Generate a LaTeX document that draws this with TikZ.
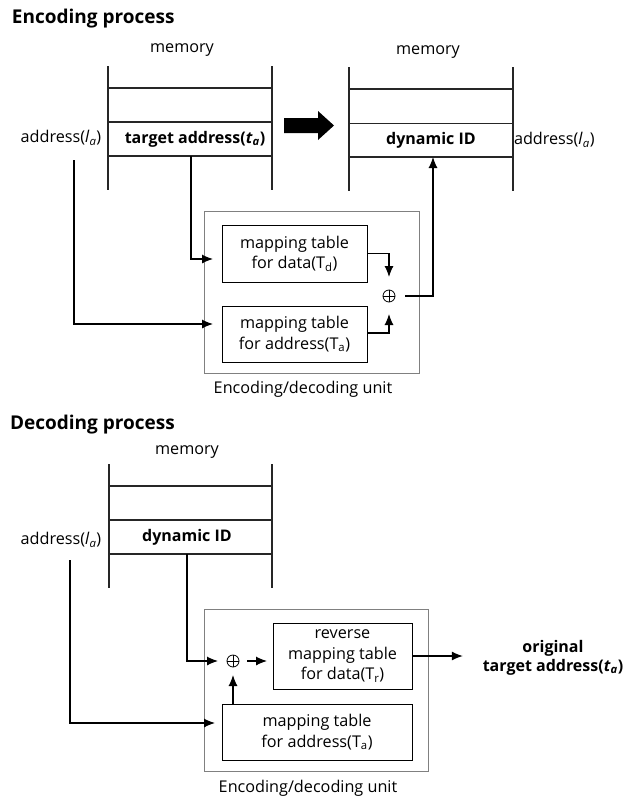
\documentclass[tikz,border=0pt]{standalone}
\usepackage{fontspec}
\setmainfont{Open Sans}
\usetikzlibrary{arrows.meta,calc}
\begin{document}
\begin{tikzpicture}[x=1pt,y=-1pt,
  every node/.style={font=\fontsize{16.2}{20.5}\selectfont, inner sep=0pt, outer sep=0pt},
  title/.style={font=\bfseries\fontsize{19}{22}\selectfont, anchor=base west},
  bold/.style={font=\bfseries\fontsize{16}{19}\selectfont},
  mem/.style={line width=1.3pt, black!85},
  tbox/.style={draw, line width=0.8pt, align=center},
  unitbox/.style={draw=black!50, line width=1pt},
  arr/.style={line width=1.1pt, -{Latex[length=11pt,width=9pt]}},
  xorn/.style={circle, draw, line width=0.8pt, minimum size=12pt, inner sep=0pt,
    path picture={\draw[line width=0.8pt] (path picture bounding box.north) -- (path picture bounding box.south)
      (path picture bounding box.west) -- (path picture bounding box.east);}}
]
\useasboundingbox (0,0) rectangle (626,796);

% ================= Encoding =================
\node[title] (t1) at (12,23) {Encoding process};

% memory 1
\node (m1lbl) at (182,50) {memory};
\draw[mem] (108,66) -- (108,190) (272,66) -- (272,190);
\draw[mem] (108,88) -- (272,88) (108,122) -- (272,122) (108,156) -- (272,156);
\node[bold] (tgt) at (195,139) {target address(\textbf{\textit{t}}\textsubscript{\textit{a}})};
\node (addr1) at (61,138) {address(\textit{l}\textsubscript{\textit{a}})};
\coordinate (tgtbot) at (191,156);
\coordinate (a1top) at (74,160);

% big arrow
\fill (284,118) -- (318,118) -- (318,111) -- (334,125.5) -- (318,140) -- (318,133) -- (284,133) -- cycle;

% memory 2
\node (m2lbl) at (428,52) {memory};
\draw[mem] (349,67) -- (349,191) (513,67) -- (513,191);
\draw[mem] (349,89) -- (513,89) (349,123.5) -- (513,123.5) (349,157) -- (513,157);
\node[bold] (dyn1) at (431,140) {dynamic ID};
\node[anchor=west] (addr2) at (514,140) {address(\textit{l}\textsubscript{\textit{a}})};
\coordinate (dyn1bot) at (433,157);

% unit
\node[unitbox, minimum width=215pt, minimum height=162pt] (u1) at (311.5,292) {};
\node (u1lbl) at (303,389) {Encoding/decoding unit};
\node[tbox, minimum width=145pt, minimum height=57pt] (Td) at (294.5,253.5) {mapping table\\for data(T\textsubscript{d})};
\node[tbox, minimum width=145pt, minimum height=56pt] (Ta1) at (294.5,334) {mapping table\\for address(T\textsubscript{a})};
\node[xorn] (x1) at (389,296) {};

\draw[arr, shorten >=9pt] (tgtbot) |- ($(Td.west)+(0,5.5)$);
\draw[arr, shorten >=9pt] (a1top) |- ($(Ta1.west)+(0,-10)$);
\draw[arr, shorten >=13pt] (Td.east) -| (x1.north);
\draw[arr, shorten >=12pt] ($(Ta1.east)+(0,-1)$) -| (x1.south);
\draw[arr, shorten <=10pt] (x1.east) -| (dyn1bot);

% ================= Decoding =================
\node[title] (t2) at (10,429) {Decoding process};

\node (m3lbl) at (187,452) {memory};
\draw[mem] (109,464) -- (109,588) (272,464) -- (272,588);
\draw[mem] (109,486) -- (272,486) (109,520) -- (272,520) (109,554) -- (272,554);
\node[bold] (dyn3) at (187,537) {dynamic ID};
\node (addr3) at (61,540) {address(\textit{l}\textsubscript{\textit{a}})};
\coordinate (dyn3bot) at (187,554);
\coordinate (a3top) at (70,560);

\node[unitbox, minimum width=224pt, minimum height=162pt] (u2) at (316,690) {};
\node (u2lbl) at (308,788) {Encoding/decoding unit};
\node[tbox, minimum width=139pt, minimum height=66pt] (Tr) at (342.5,656) {reverse\\mapping table\\for data(T\textsubscript{r})};
\node[tbox, minimum width=190pt, minimum height=56pt] (Ta2) at (317,732) {mapping table\\for address(T\textsubscript{a})};
\node[xorn] (x2) at (233,661) {};
\node[bold, align=center] (orig) at (553,657.5) {original\\target address(\textbf{\textit{t}}\textsubscript{\textit{a}})};

\draw[arr, shorten >=9pt] (dyn3bot) |- (x2.west);
\draw[arr, shorten >=7pt] (a3top) |- ($(Ta2.west)+(0,-9)$);
\draw[arr, shorten >=8pt] (Ta2.north -| x2.south) -- (x2.south);
\draw[arr, shorten <=8pt, shorten >=6pt] (x2.east) -- (Tr.west |- x2.east);
\draw[arr, shorten >=20pt] (Tr.east) -- (Tr.east -| orig.west);
\end{tikzpicture}
\end{document}
